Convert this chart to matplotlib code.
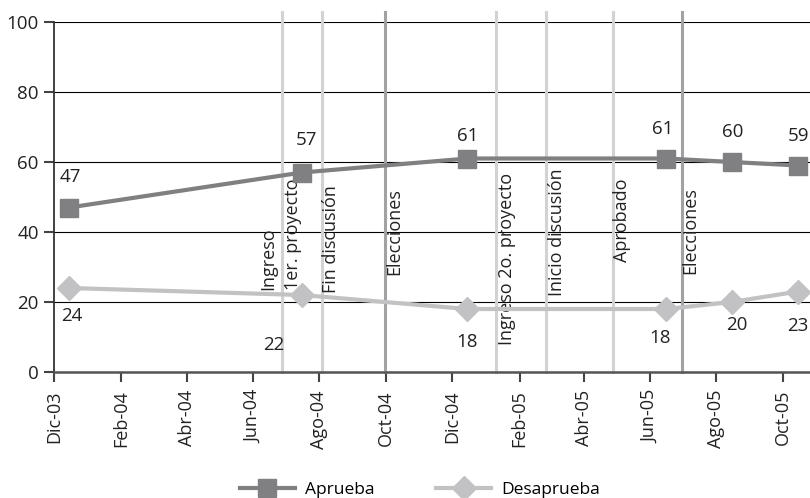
import datetime as dt
import matplotlib
matplotlib.use("Agg")
import matplotlib.pyplot as plt
import matplotlib.dates as mdates

plt.rcParams['font.family'] = ['Open Sans', 'DejaVu Sans']

# survey dates and approval / disapproval percentages
fechas = [dt.date(2003, 12, 15), dt.date(2004, 7, 16), dt.date(2004, 12, 15),
          dt.date(2005, 6, 16), dt.date(2005, 8, 15), dt.date(2005, 10, 15)]
aprueba = [47, 57, 61, 61, 60, 59]
desaprueba = [24, 22, 18, 18, 20, 23]

# events marked with vertical lines
eventos = ["Ingreso\n1er. proyecto", "Fin discusión", "Elecciones",
           "Ingreso 2o. proyecto", "Inicio discusión", "Aprobado", "Elecciones"]
fechas_eventos = [dt.date(2004, 6, 28), dt.date(2004, 8, 3), dt.date(2004, 9, 30),
                  dt.date(2005, 1, 10), dt.date(2005, 2, 25), dt.date(2005, 4, 28),
                  dt.date(2005, 6, 30)]
eventos_elecciones = [False, False, True, False, False, False, True]

meses = ["Dic-03", "Feb-04", "Abr-04", "Jun-04", "Ago-04", "Oct-04",
         "Dic-04", "Feb-05", "Abr-05", "Jun-05", "Ago-05", "Oct-05"]
fechas_meses = [dt.date(2003 + (11 + 2 * i) // 12, (11 + 2 * i) % 12 + 1, 1)
                for i in range(len(meses))]

C_APR = "#808083"
C_DES = "#c2c2c4"
C_TXT = "#222222"

fig = plt.figure(figsize=(8.1, 4.98), dpi=100)
ax = fig.add_axes([54 / 810, 126 / 498, 756 / 810, 350 / 498])

ax.set_ylim(0, 100)
ax.set_xlim(dt.date(2003, 12, 1), dt.date(2005, 10, 26))
ax.set_yticks([0, 20, 40, 60, 80, 100])
ax.yaxis.grid(True, color="black", linewidth=0.8, zorder=0)
ax.set_axisbelow(True)

# event lines with their rotated captions (top of caption in data units, x shift in px)
tope_eventos = [55.4, 53.4, 52.6, 56.9, 58.3, 55.4, 52.9]
dx_eventos = [-2, 9, 10, 11, 11, 9, 9]
for d, nombre, elec, yt, dx in zip(fechas_eventos, eventos, eventos_elecciones,
                                   tope_eventos, dx_eventos):
    ax.axvline(d, ymin=0, ymax=1.03, color="#a2a2a5" if elec else "#d2d2d2",
               linewidth=2.2, zorder=1, clip_on=False)
    ax.annotate(nombre, (d, yt), xytext=(dx, 0), textcoords="offset pixels",
                rotation=90, va="top", ha="center", multialignment="left",
                fontsize=13, color=C_TXT, zorder=2, linespacing=1.45)

ax.plot(fechas, aprueba, color=C_APR, linewidth=3, marker="s", markersize=13.5,
        zorder=4, label="Aprueba")
ax.plot(fechas, desaprueba, color=C_DES, linewidth=3, marker="D", markersize=12,
        zorder=3, label="Desaprueba")

# value labels, offsets in pixels
off_apr = [(1, 31), (4, 33), (0, 23), (-4, 30), (1, 30), (0, 30)]
off_des = [(3, -28), (-28, -50), (0, -33), (-6, -29), (5, -23), (0, -34)]
for d, v, o in zip(fechas, aprueba, off_apr):
    ax.annotate(str(v), (d, v), xytext=o, textcoords="offset pixels",
                ha="center", va="center", fontsize=13.5, color=C_TXT)
for d, v, o in zip(fechas, desaprueba, off_des):
    ax.annotate(str(v), (d, v), xytext=o, textcoords="offset pixels",
                ha="center", va="center", fontsize=13.5, color=C_TXT)

ax.set_xticks([mdates.date2num(f) for f in fechas_meses])
ax.set_xticklabels(meses, rotation=90)
ax.tick_params(axis="x", direction="out", length=7, width=1.5, color="#444444",
               labelsize=13, pad=6, labelcolor=C_TXT)
ax.tick_params(axis="y", direction="out", length=7, width=1.5, color="#444444",
               labelsize=13.5, pad=4, labelcolor=C_TXT)

for s in ["top", "right"]:
    ax.spines[s].set_visible(False)
ax.spines["left"].set_color("#333333")
ax.spines["left"].set_linewidth(1.3)
ax.spines["bottom"].set_color("#555555")
ax.spines["bottom"].set_linewidth(1.8)

fig.legend(loc="center", bbox_to_anchor=(420 / 810, 8 / 498), ncol=2,
           frameon=False, fontsize=12.5, handlelength=3.2, columnspacing=3.5,
           handletextpad=0.6)

fig.savefig("out.png", dpi=100)
